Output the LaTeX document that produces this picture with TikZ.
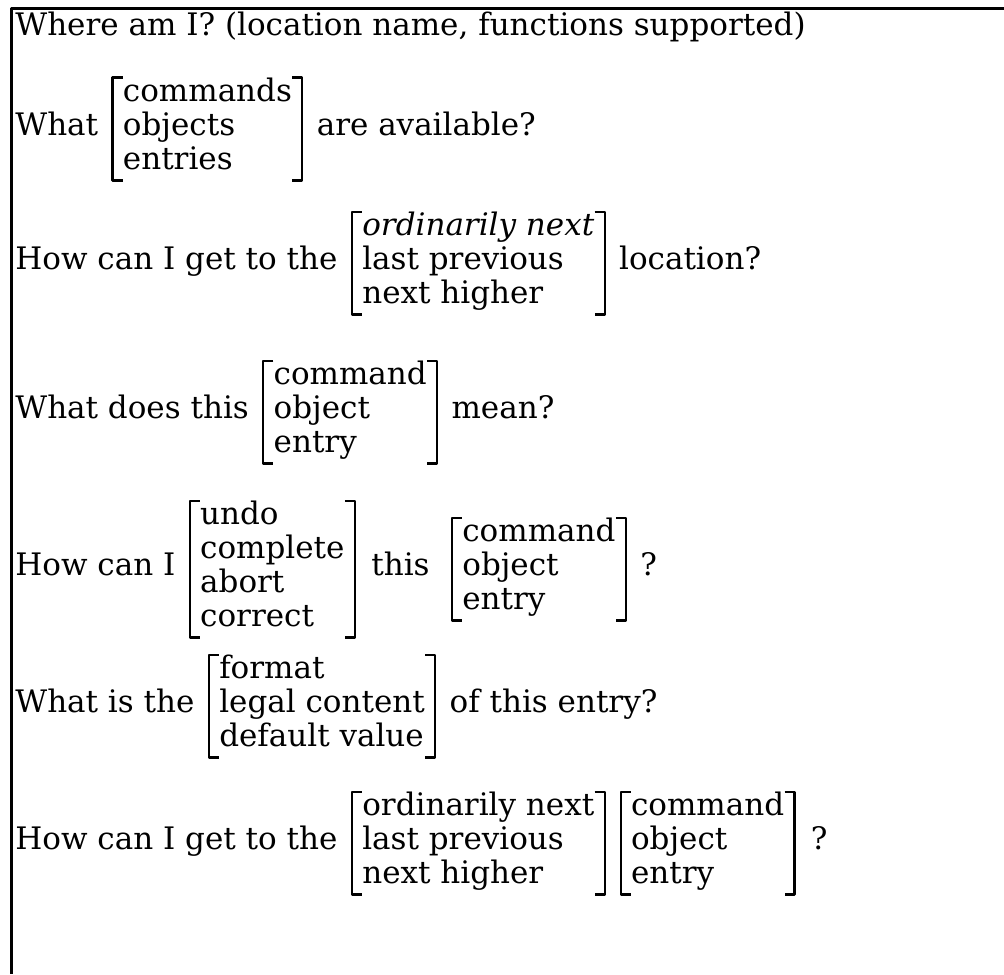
\documentclass[tikz,border=0pt]{standalone}
\usepackage{fontspec}
\setmainfont{DejaVu Serif}
\usetikzlibrary{positioning}

\newcommand{\brackets}[1]{%
\draw[brk] ([xshift=5pt]#1.north west) -- (#1.north west) -- (#1.south west) -- ([xshift=5pt]#1.south west);
\draw[brk] ([xshift=-5pt]#1.north east) -- (#1.north east) -- (#1.south east) -- ([xshift=-5pt]#1.south east);}

\begin{document}
\begin{tikzpicture}[x=0.5pt, y=-0.5pt, line join=round,
  every node/.style={inner sep=0pt, font=\fontsize{15.5}{17}\selectfont},
  txt/.style={anchor=west},
  opts/.style={align=left, inner xsep=5pt, inner ysep=0pt},
  brk/.style={line width=1.1pt},
  node distance=7pt]
\useasboundingbox (0,0) rectangle (1004,974);
\coordinate (corner) at (11,9);
\draw[line width=1.5pt] (1004,9) -- (corner) -- (11,974);

\node[txt] (where) at (15,29) {\strut Where am I? (location name, functions supported)};

\node[txt] (what) at (15,129) {\strut What};
\node[opts, right=of what] (avail) {\strut commands\\\strut objects\\\strut entries};
\node[right=of avail] (availq) {\strut are available?};

\node[txt] (howget) at (15,263) {\strut How can I get to the};
\node[opts, right=of howget] (dir) {\strut\textit{ordinarily next}\\\strut last previous\\\strut next higher};
\node[right=of dir] (loc) {\strut location?};

\node[txt] (does) at (15,412) {\strut What does this};
\node[opts, right=of does] (thing) {\strut command\\\strut object\\\strut entry};
\node[right=of thing] (mean) {\strut mean?};

\node[txt] (howcan) at (15,569) {\strut How can I};
\node[opts, right=of howcan] (act) {\strut undo\\\strut complete\\\strut abort\\\strut correct};
\node[right=8pt of act] (this) {\strut this};
\node[opts, right=11pt of this] (thing2) {\strut command\\\strut object\\\strut entry};
\node[right=of thing2] (q5) {\strut ?};

\node[txt] (whatis) at (15,706) {\strut What is the};
\node[opts, right=of whatis] (prop) {\strut format\\\strut legal content\\\strut default value};
\node[right=of prop] (ofentry) {\strut of this entry?};

\node[txt] (howget2) at (15,843) {\strut How can I get to the};
\node[opts, right=of howget2] (dir2) {\strut ordinarily next\\\strut last previous\\\strut next higher};
\node[opts, right=8pt of dir2] (thing3) {\strut command\\\strut object\\\strut entry};
\node[right=8pt of thing3] (q7) {\strut ?};

\foreach \n in {avail,dir,thing,act,thing2,prop,dir2,thing3} {\brackets{\n}}
\end{tikzpicture}
\end{document}
